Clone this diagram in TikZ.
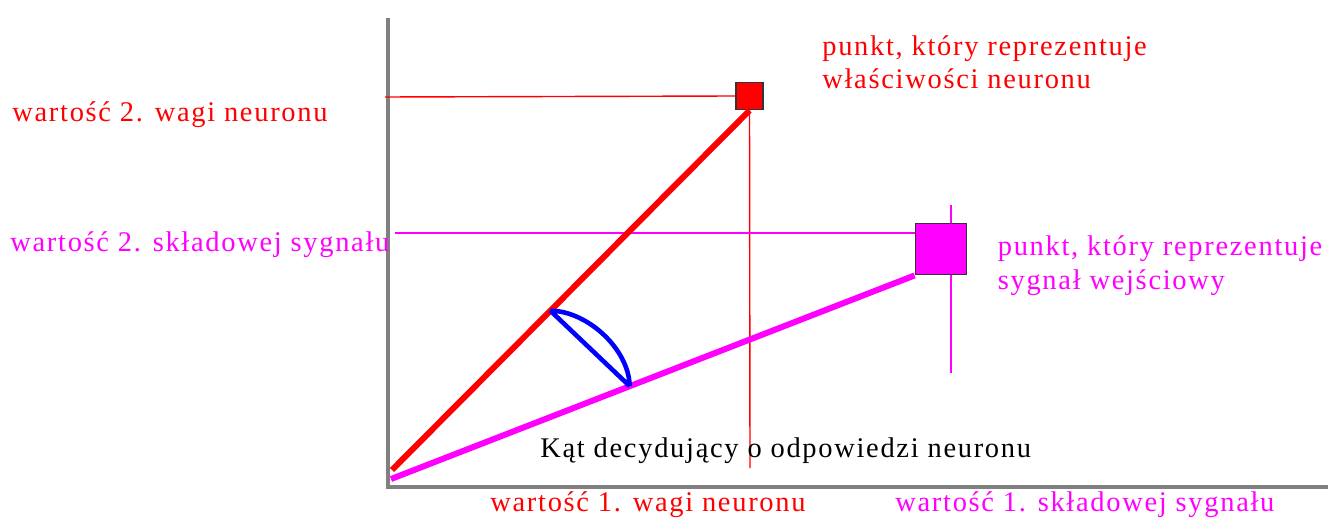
\documentclass[tikz,border=0pt]{standalone}
\usepackage{fontspec}
\setmainfont[LetterSpace=6]{Liberation Serif}
\usepackage{tikz}
\usetikzlibrary{positioning, calc}
\definecolor{sigmag}{RGB}{255,0,255}
\definecolor{axisgray}{RGB}{128,128,128}
\tikzset{
  % Axes and guide lines
  axisline/.style={draw=axisgray, line width=1.8pt},
  guide/.style={draw=#1, line width=0.8pt},
  vector/.style={draw=#1, line width=3.4pt},
  anglemark/.style={draw=blue, line width=2.6pt, line join=round},
  % Points
  point/.style={rectangle, draw=black!80, fill=#1, line width=1.1pt, inner sep=0pt},
  % Labels
  lbl/.style={text=#1, font=\fontsize{16.2}{19}\selectfont, inner sep=0pt, align=left},
}

\begin{document}
\begin{tikzpicture}[x=0.02cm, y=-0.02cm]
    \useasboundingbox (0,0) rectangle (1328,523);

    % Axes
    \coordinate (origin) at (388,487);
    \coordinate (ytop) at (388,18);
    \coordinate (xend) at (1328,487);
    \draw[axisline] (ytop) -- (origin) -- (xend);

    % Guide line ends
    \coordinate (wy) at (385,97);
    \coordinate (wxbot) at (750,468);
    \coordinate (sy) at (395,233);
    \coordinate (sxtop) at (951,205);
    \coordinate (sxbot) at (951,373);

    % Vector starts
    \coordinate (w0) at (392,470);
    \coordinate (s0) at (391,479);

    % Signal vertical guide (behind square)
    \draw[guide=sigmag] (sxtop) -- (sxbot);

    % Points
    \node[point=red, minimum size=0.54cm] (neuron) at (749.5,96) {};
    \node[point=sigmag, minimum size=1.02cm] (signal) at (941,249) {};

    % Guides
    \draw[guide=red] (wy) -- (neuron.west);
    \draw[guide=red] (neuron.south) -- (wxbot);
    \draw[guide=sigmag] (sy) -- (sy -| signal.west);

    % Vectors
    \draw[vector=red] (w0) -- (neuron.south);
    \draw[vector=sigmag] (s0) -- (signal.south west);

    % Angle between them
    \coordinate (a1) at ($(w0)!0.443!(neuron.south)$);
    \coordinate (a2) at ($(s0)!0.456!(signal.south west)$);
    \draw[anglemark] (a1) -- (a2)
      (a1) .. controls +(36,0) and +(-1,-38) .. (a2);

    % Labels
    \node[lbl=red, anchor=west] (w2lab) at (12,115) {wartość 2. wagi neuronu};
    \node[lbl=sigmag, anchor=west] (s2lab) at (10,245) {wartość 2. składowej sygnału};
    \node[lbl=red, anchor=west] (nlab) at (822,62) {punkt, który reprezentuje\\właściwości neuronu};
    \node[lbl=sigmag, right=0.6cm of signal, yshift=-0.33cm] (slab) {punkt, który reprezentuje\\sygnał wejściowy};
    \node[lbl=black, anchor=west] (anglelab) at (540,451) {Kąt decydujący o odpowiedzi neuronu};
    \node[lbl=red, anchor=west] (w1lab) at (490,505) {wartość 1. wagi neuronu};
    \node[lbl=sigmag, anchor=west] (s1lab) at (895,505) {wartość 1. składowej sygnału};
\end{tikzpicture}
\end{document}
